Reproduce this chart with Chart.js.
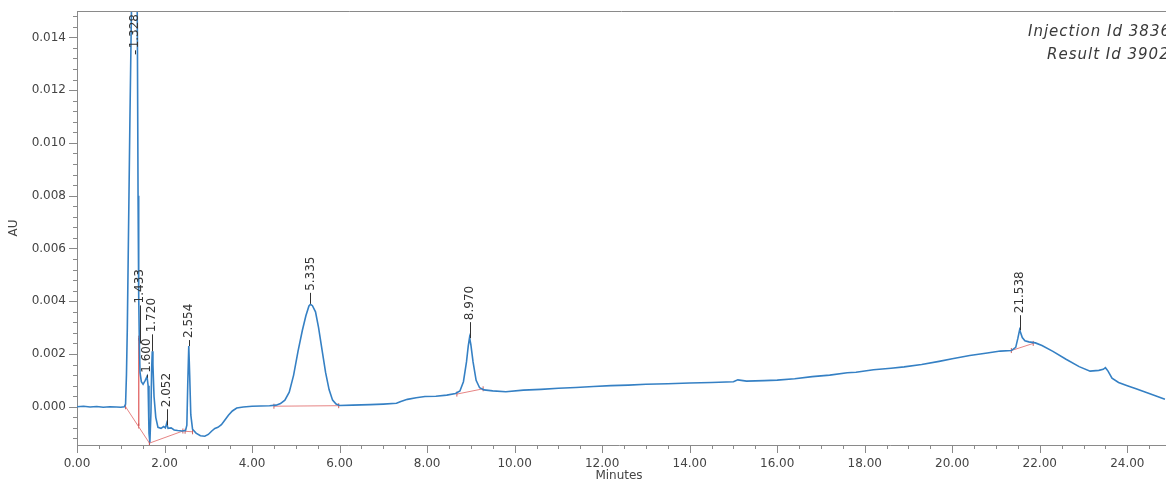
<!DOCTYPE html>
<html><head><meta charset="utf-8">
<script src="https://cdn.jsdelivr.net/npm/chart.js@4.4.1/dist/chart.umd.min.js"></script>
<style>html,body{margin:0;padding:0;background:#fff;overflow:hidden}#wrap{width:1166px;height:483px}</style>
</head><body><div id="wrap"><canvas id="c" width="1166" height="483"></canvas></div>
<script>
// ---- data ----
const traceMinutes = [0.00,0.15,0.30,0.45,0.60,0.75,0.90,1.00,1.08,1.11,1.13,1.15,1.18,1.21,1.24,1.27,1.30,1.33,1.36,1.38,1.395,1.41,1.425,1.44,1.47,1.51,1.56,1.60,1.625,1.645,1.665,1.69,1.705,1.72,1.735,1.76,1.80,1.85,1.92,1.98,2.02,2.05,2.08,2.15,2.22,2.30,2.40,2.48,2.51,2.53,2.554,2.575,2.60,2.64,2.72,2.82,2.92,3.00,3.08,3.15,3.22,3.30,3.38,3.46,3.55,3.65,3.80,4.00,4.20,4.40,4.55,4.65,4.75,4.85,4.95,5.05,5.15,5.23,5.30,5.335,5.38,5.45,5.52,5.60,5.68,5.76,5.84,5.92,6.00,6.30,6.70,7.00,7.30,7.40,7.55,7.75,7.95,8.20,8.45,8.65,8.75,8.83,8.90,8.94,8.97,9.00,9.05,9.12,9.20,9.30,9.50,9.80,10.20,10.60,11.00,11.40,11.80,12.20,12.60,13.00,13.50,14.00,14.50,15.00,15.10,15.30,15.70,16.00,16.40,16.80,17.20,17.60,17.80,18.20,18.60,18.90,19.30,19.70,20.00,20.40,20.80,21.10,21.35,21.45,21.50,21.54,21.60,21.66,21.75,21.90,22.05,22.30,22.60,22.90,23.15,23.35,23.45,23.50,23.56,23.65,23.80,24.00,24.20,24.50,24.86];
const traceAU = [0.00000,0.00002,-0.00001,0.00001,-0.00002,0.00000,-0.00001,-0.00002,0.00000,0.00010,0.00120,0.00300,0.00700,0.01100,0.01450,0.01800,0.02000,0.02050,0.01900,0.01400,0.00800,0.00420,0.00240,0.00130,0.00095,0.00085,0.00100,0.00115,0.00080,-0.00100,-0.00135,-0.00020,0.00140,0.00210,0.00160,0.00040,-0.00040,-0.00078,-0.00082,-0.00075,-0.00080,-0.00062,-0.00082,-0.00080,-0.00088,-0.00090,-0.00092,-0.00090,-0.00070,0.00080,0.00230,0.00120,-0.00030,-0.00085,-0.00100,-0.00110,-0.00112,-0.00105,-0.00092,-0.00082,-0.00078,-0.00068,-0.00050,-0.00032,-0.00016,-0.00005,-0.00001,0.00002,0.00003,0.00004,0.00006,0.00012,0.00025,0.00055,0.00120,0.00210,0.00290,0.00345,0.00382,0.00388,0.00383,0.00360,0.00300,0.00215,0.00130,0.00065,0.00025,0.00010,0.00005,0.00006,0.00008,0.00010,0.00013,0.00020,0.00028,0.00034,0.00039,0.00040,0.00044,0.00050,0.00060,0.00095,0.00170,0.00230,0.00262,0.00235,0.00170,0.00100,0.00072,0.00064,0.00060,0.00057,0.00063,0.00066,0.00070,0.00073,0.00077,0.00080,0.00082,0.00085,0.00087,0.00090,0.00092,0.00095,0.00102,0.00097,0.00099,0.00101,0.00106,0.00114,0.00120,0.00129,0.00131,0.00140,0.00146,0.00151,0.00160,0.00172,0.00182,0.00194,0.00204,0.00211,0.00213,0.00225,0.00260,0.00292,0.00262,0.00250,0.00246,0.00242,0.00232,0.00210,0.00180,0.00152,0.00135,0.00138,0.00142,0.00148,0.00135,0.00108,0.00092,0.00080,0.00068,0.00050,0.00028];

const peakMinutes = [1.328,1.433,1.600,1.720,2.052,2.554,5.335,8.970,21.538];
const peakLabels  = ['1.328','1.433','1.600','1.720','2.052','2.554','5.335','8.970','21.538'];
const peakApexAU  = [0.0205,0.0024,0.0011,0.0021,-0.0007,0.0023,0.0039,0.0026,0.0029];

// integration baselines (start/end)
const baseStartMin = [1.11,1.655,2.47,1.41,4.50,8.68,21.35];
const baseStartAU  = [0.00000,-0.00138,-0.00093,0.00260,0.00002,0.00048,0.00213];
const baseEndMin   = [1.655,2.42,2.64,1.41,5.98,9.28,21.85];
const baseEndAU    = [-0.00138,-0.00092,-0.00095,-0.00073,0.00004,0.00068,0.00240];

const xTickLabels = ['0.00','2.00','4.00','6.00','8.00','10.00','12.00','14.00','16.00','18.00','20.00','22.00','24.00'];
const yTickLabels = ['0.000','0.002','0.004','0.006','0.008','0.010','0.012','0.014'];
const infoLines = ['Injection Id 3836','Result Id 3902'];

// ---- chart ----
const FONT = 'DejaVu Sans';
Chart.defaults.font.family = FONT;

const traceData = traceMinutes.map((t,i)=>({x:t,y:traceAU[i]}));
const baseDatasets = baseStartMin.map((t,i)=>({
  data:[{x:t,y:baseStartAU[i]},{x:baseEndMin[i],y:baseEndAU[i]}],
  borderColor:'rgba(226,110,110,0.85)', borderWidth:1,
  pointStyle:'line', pointRotation:90, pointRadius:2.5,
  pointBorderColor:'rgba(200,80,80,0.9)', pointBorderWidth:1,
  order:2
}));

const labelGaps = [0,40,5,19,18,8,13,18,17];

const decorations = {
  id:'decorations',
  afterDatasetsDraw(chart){
    const {ctx, chartArea:a, scales:{x,y}} = chart;
    ctx.save();
    ctx.strokeStyle = '#8a8a8a'; ctx.lineWidth = 1;
    ctx.beginPath(); ctx.moveTo(a.left, a.top+0.5); ctx.lineTo(chart.width, a.top+0.5); ctx.stroke();
    ctx.beginPath(); ctx.moveTo(a.right, a.bottom+0.5); ctx.lineTo(chart.width, a.bottom+0.5); ctx.stroke();
    for (let k=0; k*0.5 <= x.max+1e-9; k++){
      const px = Math.round(x.getPixelForValue(k*0.5))+0.5;
      const len = (k%4===0)?8:4;
      ctx.beginPath(); ctx.moveTo(px,a.bottom); ctx.lineTo(px,a.bottom+len); ctx.stroke();
    }
    for (let k=Math.ceil(y.min/0.0004-1e-9); k*0.0004 <= y.max+1e-9; k++){
      const py = Math.round(y.getPixelForValue(k*0.0004))+0.5;
      const len = (k%5===0)?8:4;
      ctx.beginPath(); ctx.moveTo(a.left,py); ctx.lineTo(a.left-len,py); ctx.stroke();
    }
    ctx.font = '12px "'+FONT+'"';
    ctx.fillStyle = '#333'; ctx.strokeStyle = '#333';
    peakMinutes.forEach((t,i)=>{
      const px = x.getPixelForValue(t);
      const apex = y.getPixelForValue(peakApexAU[i]);
      const w = ctx.measureText(peakLabels[i]).width;
      let bottom = apex - labelGaps[i];
      let lineEnd = apex;
      if (bottom - w < a.top + 3){ bottom = a.top + 3 + w; lineEnd = bottom + 6; }
      ctx.beginPath(); ctx.moveTo(Math.round(px)+0.5, bottom+2); ctx.lineTo(Math.round(px)+0.5, lineEnd); ctx.stroke();
      ctx.save();
      ctx.translate(px, bottom);
      ctx.rotate(-Math.PI/2);
      ctx.textAlign = 'left'; ctx.textBaseline = 'middle';
      ctx.fillText(peakLabels[i], 0, 0);
      ctx.restore();
    });
    ctx.font = 'italic 15px "'+FONT+'"';
    ctx.fillStyle = '#3a3a3a';
    ctx.textAlign = 'left'; ctx.textBaseline = 'alphabetic';
    if ('letterSpacing' in ctx) ctx.letterSpacing = '1px';
    ctx.fillText(infoLines[0], 1028, 36);
    ctx.fillText(infoLines[1], 1047, 59);
    ctx.restore();
  }
};

new Chart(document.getElementById('c'), {
  type:'line',
  data:{ datasets:[
    {data:traceData, borderColor:'#3580c4', borderWidth:1.6, pointRadius:0, tension:0, order:1, clip:{left:0,top:0,bottom:0,right:6}},
    ...baseDatasets
  ]},
  options:{
    responsive:false, animation:false, devicePixelRatio:1,
    layout:{padding:{top:11,right:0,bottom:0,left:0}},
    plugins:{legend:{display:false}, tooltip:{enabled:false}},
    scales:{
      x:{type:'linear', min:0, max:24.77,
        afterFit(s){ s.height = 38; s.paddingLeft = 0; s.paddingRight = 0; },
        grid:{display:false, drawTicks:false},
        border:{display:true, color:'#8a8a8a', width:1},
        ticks:{stepSize:2, includeBounds:false, autoSkip:false, maxRotation:0, padding:12, color:'#444', font:{size:12},
          callback(v){ const l = xTickLabels.find(s=>Math.abs(parseFloat(s)-v)<1e-6); return l===undefined?'':l; }},
        title:{display:true, text:'Minutes', color:'#444', font:{size:12}, padding:0}
      },
      y:{type:'linear', min:-0.00145, max:0.015,
        afterFit(s){ s.width = 77; s.paddingTop = 0; s.paddingBottom = 0; },
        grid:{display:false, drawTicks:false},
        border:{display:true, color:'#8a8a8a', width:1},
        ticks:{stepSize:0.002, includeBounds:false, autoSkip:false, padding:11, color:'#444', font:{size:12},
          callback(v){ const l = yTickLabels.find(s=>Math.abs(parseFloat(s)-v)<1e-9); return l===undefined?'':l; }},
        title:{display:true, text:'AU', color:'#444', font:{size:12}, padding:{top:7,bottom:0}}
      }
    }
  },
  plugins:[decorations]
});
</script></body></html>
